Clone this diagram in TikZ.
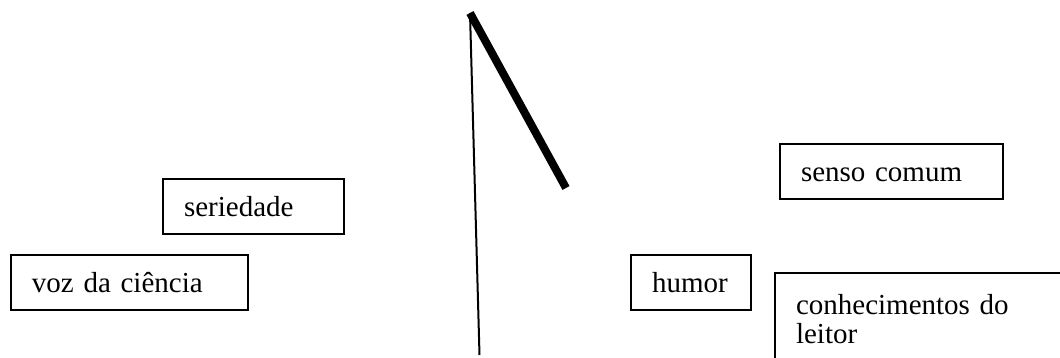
\documentclass[tikz,border=0pt]{standalone}
\usepackage{fontspec}
\setmainfont{Liberation Serif}

\begin{document}
\begin{tikzpicture}[
    x=0.5pt,y=-0.5pt,
    every node/.style={font=\fontsize{14.5}{14.5}\selectfont},
    box/.style={draw,line width=1pt,anchor=north west,align=left,inner xsep=10.5pt,inner ysep=0pt,text height=18.5pt,text depth=9pt},
    thinline/.style={line width=1pt},
    thickline/.style={line width=4pt}
]
\useasboundingbox (0,0) rectangle (1060,358);
\node[box,text width=69.5pt] (seriedade) at (162,178) {seriedade};
\node[box,text width=97.5pt] (voz) at (10,254) {voz da ciência};
\node[box,text width=39pt] (humor) at (630,254) {humor};
\node[box,text width=90.5pt] (senso) at (779,143) {senso comum};
\node[box,text width=160pt,text height=20.5pt,text depth=40pt] (leitor) at (774,272) {conhecimentos do\\leitor};
% the two strokes in the middle
\coordinate (apex) at (470,13);
\coordinate (foot) at (479.5,355);
\coordinate (tip) at (566,188);
\draw[thinline] (apex) -- (foot);
\draw[thickline] (apex) -- (tip);
\end{tikzpicture}
\end{document}
